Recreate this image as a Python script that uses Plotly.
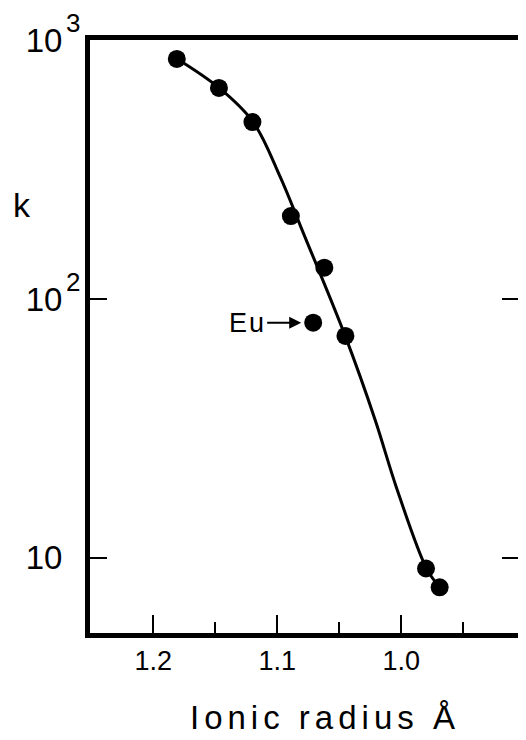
import math
import plotly.graph_objects as go

# measured points (ionic radius in Å, k)
radius = [1.181, 1.147, 1.120, 1.089, 1.062, 1.045, 0.980, 0.969]
k_vals = [845, 653, 482, 209, 132, 72, 9.1, 7.7]
eu_radius = [1.071]
eu_k = [81]

# smooth curve
curve_r = [1.1806, 1.1468, 1.1194, 1.0976, 1.0790, 1.0452, 1.0210, 1.0040, 0.9798, 0.9694]
curve_k = [845, 653, 482, 296, 180, 72, 34.1, 18.8, 9.15, 7.73]

x_ticks = [1.2, 1.1, 1.0]
x_tick_labels = ["1.2", "1.1", "1.0"]
x_minor_ticks = [1.15, 1.05, 0.95]
y_ticks = [1000, 100, 10]
y_tick_labels = ["10", "10", "10"]
y_exponents = ["3", "2", ""]

FONT = "Liberation Sans, Arial, Helvetica, sans-serif"

fig = go.Figure()
fig.add_trace(go.Scatter(x=curve_r, y=curve_k, mode="lines",
                         line=dict(color="black", width=3, shape="spline", smoothing=1.0),
                         hoverinfo="skip", showlegend=False))
fig.add_trace(go.Scatter(x=radius, y=k_vals, mode="markers",
                         marker=dict(color="black", size=18), showlegend=False))
fig.add_trace(go.Scatter(x=eu_radius, y=eu_k, mode="markers",
                         marker=dict(color="black", size=18), showlegend=False))

# exponents of the y tick labels (10^3, 10^2)
for tv, ex in zip(y_ticks, y_exponents):
    if ex:
        fig.add_annotation(text=ex, xref="paper", yref="y", x=-0.058, y=math.log10(tv),
                           xanchor="left", yanchor="middle", yshift=17, showarrow=False,
                           borderpad=0,
                           font=dict(family=FONT, size=26, color="black"))

fig.add_annotation(x=eu_radius[0], y=math.log10(eu_k[0]), xref="x", yref="y",
                   text="<span style='letter-spacing:2px'>Eu</span>", showarrow=True, ax=-66, ay=0,
                   arrowhead=2, arrowsize=1.2, arrowwidth=2, arrowcolor="black", standoff=12,
                   font=dict(family=FONT, size=27, color="black"))

fig.add_annotation(text="k", xref="paper", yref="paper", x=-0.158, y=0.721,
                   xanchor="center", yanchor="middle", showarrow=False,
                   font=dict(family=FONT, size=34, color="black"))
fig.add_annotation(text="<span style='letter-spacing:5px'>Ionic radius Å</span>",
                   xref="paper", yref="paper", x=0.547, y=-0.108,
                   xanchor="center", yanchor="top", showarrow=False,
                   font=dict(family=FONT, size=33, color="black"))

fig.update_layout(
    width=518, height=732,
    margin=dict(l=82, r=7, t=32, b=107),
    paper_bgcolor="white", plot_bgcolor="white",
    font=dict(family=FONT, color="black"),
    xaxis=dict(range=[1.251, 0.905], tickvals=x_ticks, ticktext=x_tick_labels,
               ticks="inside", ticklen=18, tickwidth=2, tickcolor="black",
               minor=dict(tickvals=x_minor_ticks, ticks="inside", ticklen=11,
                          tickwidth=2, tickcolor="black", showgrid=False),
               showline=True, linewidth=5, linecolor="black", mirror=True,
               showgrid=False, zeroline=False, ticklabelstandoff=0, automargin=False,
               tickfont=dict(family=FONT, size=27, color="black")),
    yaxis=dict(type="log", range=[0.71, 3.0], tickvals=y_ticks, ticktext=y_tick_labels,
               ticks="inside", ticklen=17, tickwidth=2, tickcolor="black",
               showline=True, linewidth=5, linecolor="black", mirror="ticks",
               showgrid=False, zeroline=False, ticklabelstandoff=16, automargin=False,
               tickfont=dict(family=FONT, size=33, color="black")),
)

fig.write_html("out.html")
